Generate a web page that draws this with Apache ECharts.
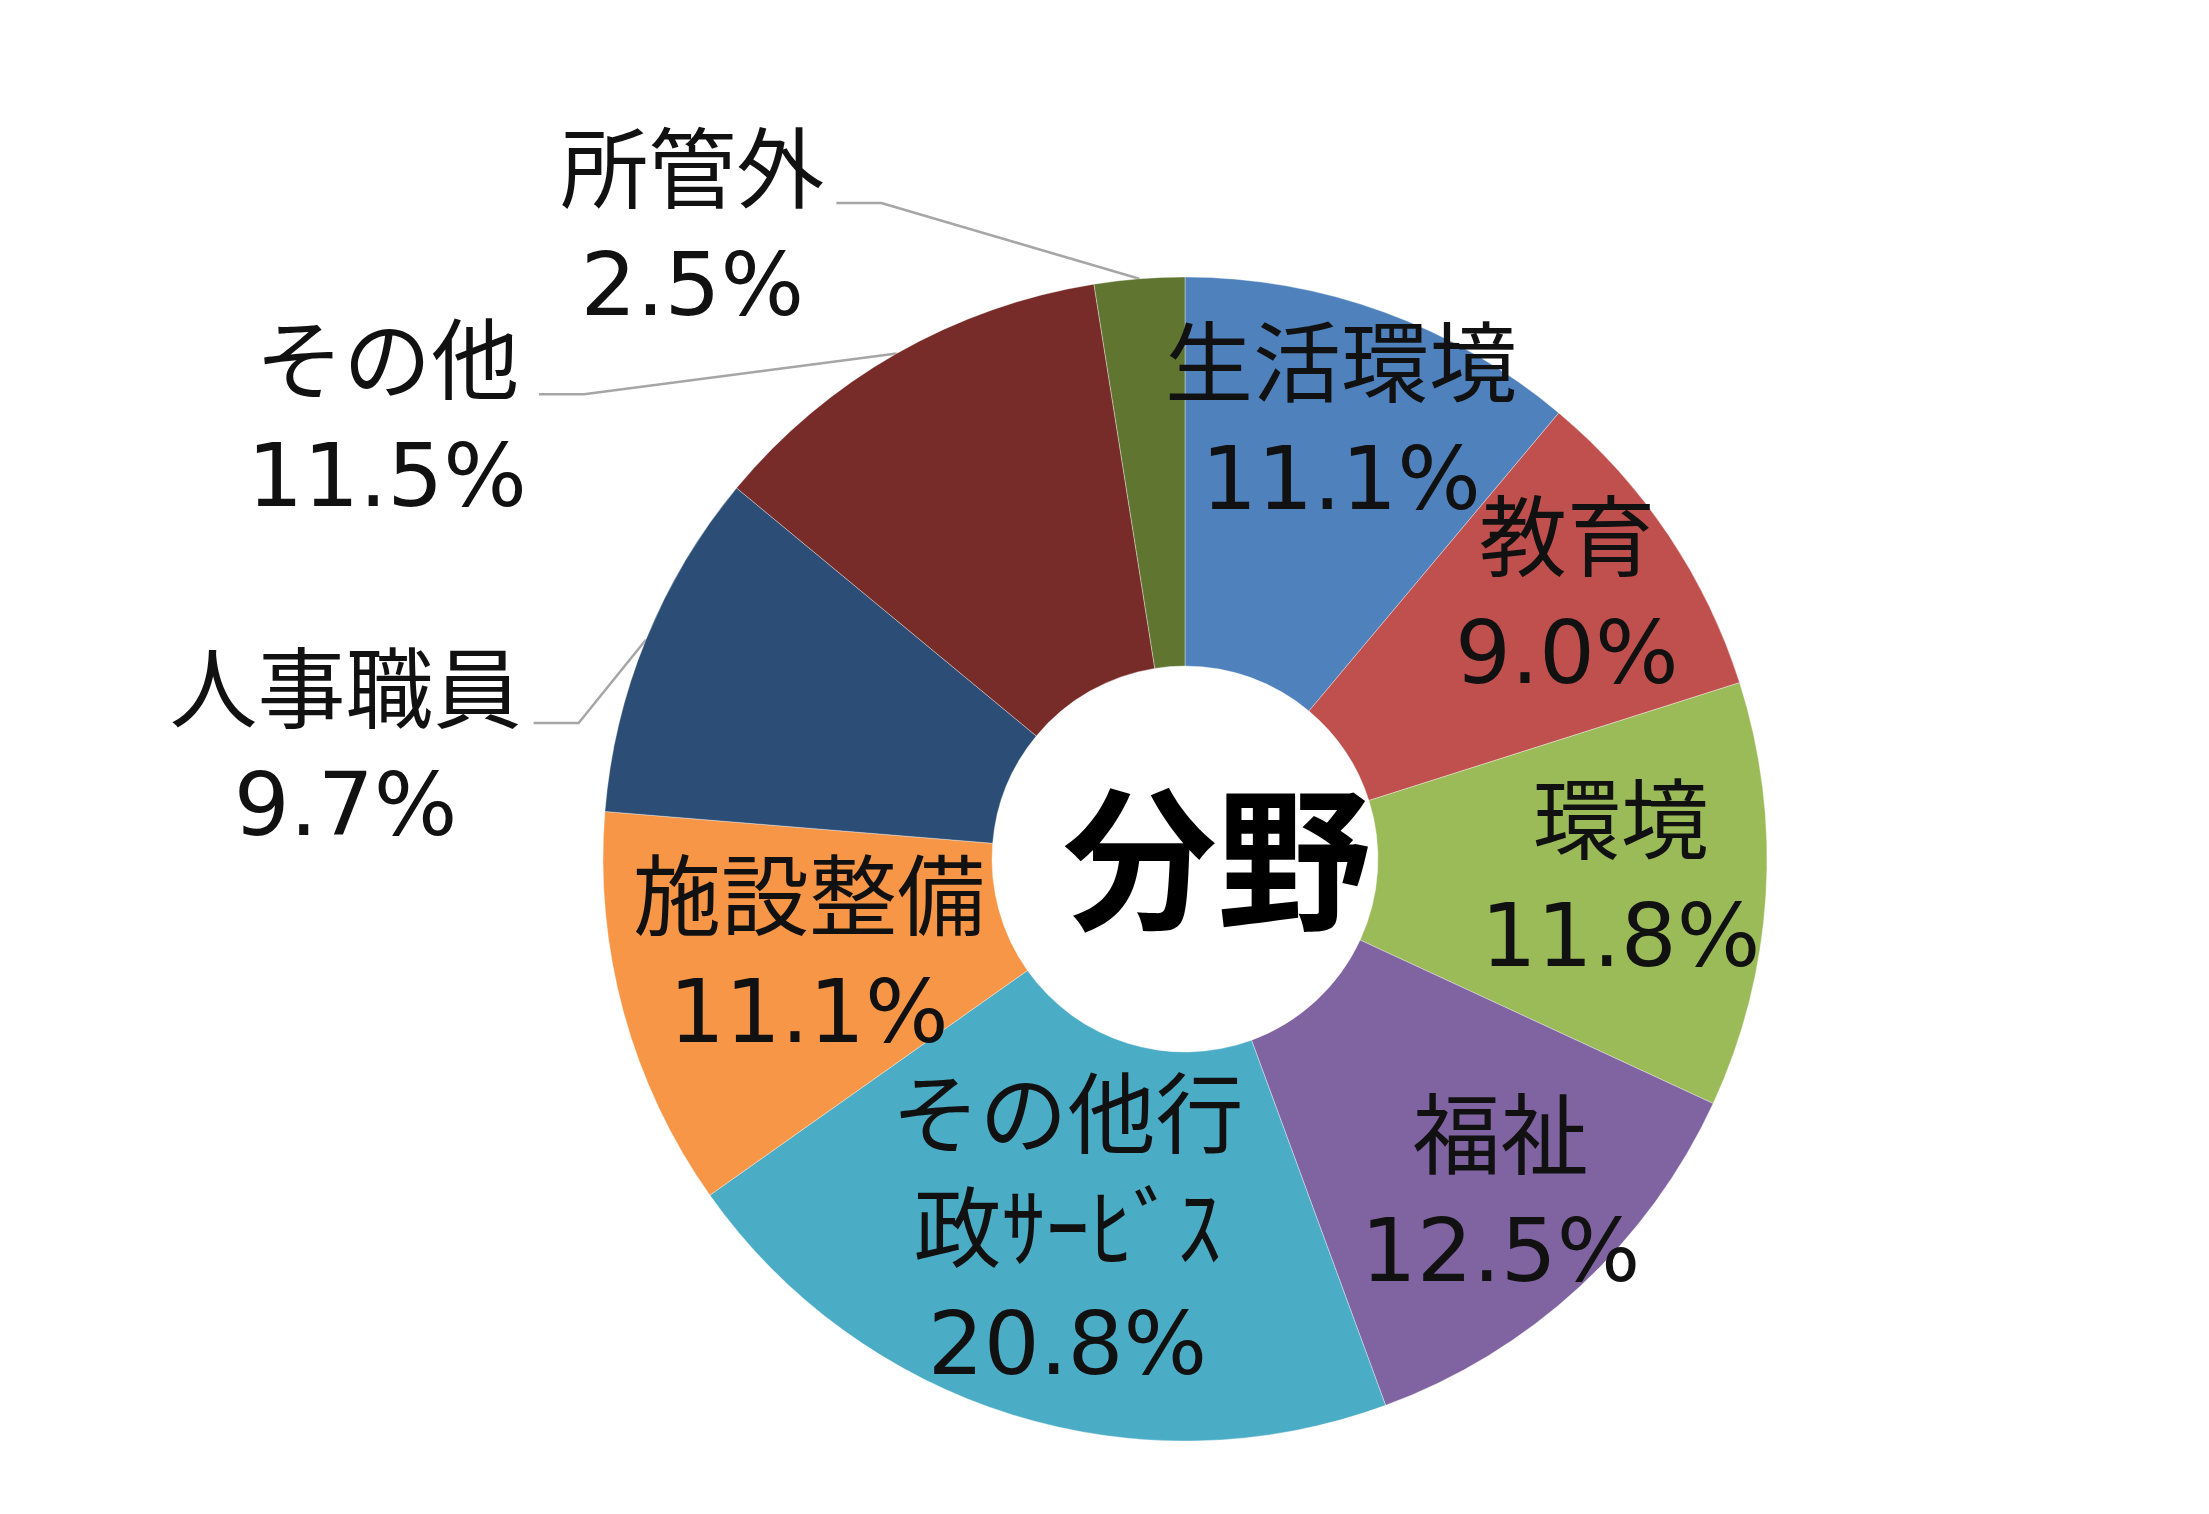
<!DOCTYPE html>
<html lang="ja">
<head>
    <meta charset="UTF-8">
    <title>分野</title>
    <script src="https://cdn.jsdelivr.net/npm/echarts@6/dist/echarts.min.js"></script>
    <style>
        html, body { margin: 0; padding: 0; background: #ffffff; }
        #main { width: 2209px; height: 1514px; }
    </style>
</head>
<body>
    <div id="main"></div>

    <script type="text/javascript">
        // 分野別の割合 (%)、12時の位置から時計回り
        const categories = ['生活環境', '教育', '環境', '福祉', 'その他行\n政ｻｰﾋﾞｽ', '施設整備', '人事職員', 'その他', '所管外'];
        const shares = [11.1, 9.0, 11.8, 12.5, 20.8, 11.1, 9.7, 11.5, 2.5];
        const centerTitle = '分野';

        // Excel風の配色
        const colors = ['#4F81BD', '#C0504D', '#9BBB59', '#8064A2', '#4BACC6', '#F79646', '#2C4D75', '#772C2A', '#5F7530'];

        // ラベル配置の調整
        // 内側ラベル: 外径に対する半径比 (null は外側ラベル)
        const insideLabelRadius = [0.785, 0.79, 0.75, 0.80, 0.68, 0.67, null, null, null];
        // 外側ラベル: 引出線の [length, length2]
        const outsideLine = { 6: [-221, 317], 7: [-47, 381], 8: [76, 297] };

        const CX = 1185, CY = 859;      // 円の中心
        const R = 582, R0 = 193;        // 外径・内径
        const FONT = "'DejaVu Sans', 'Noto Sans CJK JP', sans-serif";

        var myChart = echarts.init(document.getElementById('main'));

        const pieData = categories.map(function (name, i) {
            const inside = insideLabelRadius[i] != null;
            return {
                name: name,
                value: shares[i],
                itemStyle: { color: colors[i] },
                label: inside
                    ? { position: 'inside' }
                    : { position: 'outside', padding: [64, 0, 0, 0], distanceToLabelLine: 12 },
                labelLine: inside
                    ? { show: false }
                    : { show: true, length: outsideLine[i][0], length2: outsideLine[i][1] }
            };
        });

        var option = {
            backgroundColor: '#ffffff',
            animation: false,
            series: [
                {
                    name: '分野',
                    type: 'pie',
                    center: [CX, CY],
                    radius: [R0, R],
                    startAngle: 90,
                    clockwise: true,
                    avoidLabelOverlap: false,
                    minShowLabelAngle: 0,
                    silent: true,
                    data: pieData,
                    itemStyle: {
                        borderColor: 'rgba(255,255,255,0.35)',
                        borderWidth: 1
                    },
                    label: {
                        show: true,
                        color: '#111111',
                        fontFamily: FONT,
                        fontSize: 88,
                        lineHeight: 114,
                        formatter: function (p) {
                            return '{t|' + p.name + '}\n{t|' + p.value.toFixed(1) + '%}';
                        },
                        rich: {
                            t: {
                                align: 'center',
                                color: '#111111',
                                fontFamily: FONT,
                                fontSize: 88,
                                lineHeight: 114
                            }
                        }
                    },
                    labelLine: {
                        lineStyle: { color: '#A6A6A6', width: 2.5 }
                    },
                    labelLayout: function (p) {
                        const ratio = insideLabelRadius[p.dataIndex];
                        if (ratio != null) {
                            // 内側ラベルを半径方向に移動
                            const r = p.labelRect;
                            const dx = r.x + r.width / 2 - CX;
                            const dy = r.y + r.height / 2 - CY;
                            const d = Math.sqrt(dx * dx + dy * dy) || 1;
                            return { x: CX + dx / d * ratio * R, y: CY + dy / d * ratio * R };
                        }
                        const pts = p.labelLinePoints;
                        if (pts && pts.length === 3) {
                            // 引出線: ラベル側に短い水平線、そこから扇形へ斜線
                            const end = pts[2];
                            return { labelLinePoints: [pts[0], [end[0] + 45, end[1]], end] };
                        }
                    }
                },
                {
                    // 中央の文字
                    type: 'pie',
                    center: [CX, CY],
                    radius: [0, R0],
                    silent: true,
                    data: [{ value: 1, name: centerTitle }],
                    itemStyle: { color: 'rgba(255,255,255,0)' },
                    label: {
                        show: true,
                        position: 'center',
                        formatter: '{b}',
                        color: '#000000',
                        fontFamily: "'Noto Sans CJK JP', sans-serif",
                        fontSize: 154,
                        fontWeight: 'bold',
                        padding: [6, 0, 0, 64]
                    },
                    labelLine: { show: false },
                    emphasis: { disabled: true }
                }
            ]
        };

        myChart.setOption(option);
    </script>
</body>
</html>
